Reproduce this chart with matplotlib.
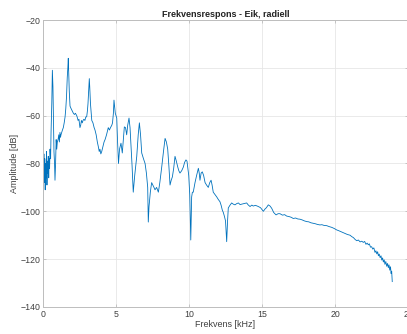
import numpy as np
import matplotlib
matplotlib.use("Agg")
import matplotlib.pyplot as plt

# frequency response values (kHz, dB)
freq_khz = [
    0.00, 0.03, 0.06, 0.09, 0.12, 0.15, 0.18, 0.21, 0.24, 0.27, 0.30, 0.33,
    0.36, 0.39, 0.42, 0.45, 0.48, 0.52, 0.55, 0.60, 0.64, 0.66, 0.68, 0.72,
    0.75, 0.79, 0.82, 0.86, 0.90, 0.94, 0.98, 1.03, 1.08, 1.12, 1.16, 1.20,
    1.23, 1.28, 1.33, 1.39, 1.45, 1.51, 1.56, 1.61, 1.66, 1.70, 1.73, 1.76,
    1.80, 1.85, 1.92, 2.00, 2.08, 2.15, 2.22, 2.31, 2.36, 2.40, 2.46, 2.53,
    2.58, 2.63, 2.69, 2.74, 2.80, 2.87, 2.93, 2.99, 3.04, 3.08, 3.13, 3.17,
    3.20, 3.25, 3.34, 3.42, 3.50, 3.56, 3.64, 3.72, 3.79, 3.85, 3.90, 3.96,
    4.02, 4.10, 4.18, 4.25, 4.35, 4.47, 4.55, 4.62, 4.71, 4.76, 4.82, 4.86,
    4.90, 4.95, 5.05, 5.10, 5.17, 5.24, 5.34, 5.43, 5.50, 5.57, 5.65, 5.73,
    5.80, 5.89, 5.96, 6.03, 6.10, 6.18, 6.28, 6.42, 6.52, 6.60, 6.68, 6.76,
    6.88, 6.99, 7.08, 7.17, 7.21, 7.26, 7.35, 7.44, 7.52, 7.60, 7.67, 7.78,
    7.90, 8.00, 8.13, 8.25, 8.36, 8.45, 8.54, 8.62, 8.70, 8.78, 8.86, 8.95,
    9.04, 9.13, 9.23, 9.30, 9.38, 9.50, 9.61, 9.70, 9.79, 9.86, 9.91, 9.98,
    10.05, 10.12, 10.18, 10.23, 10.29, 10.35, 10.41, 10.52, 10.64, 10.70, 10.75, 10.83,
    10.91, 11.00, 11.10, 11.20, 11.32, 11.42, 11.51, 11.58, 11.66, 11.78, 11.90, 12.00,
    12.12, 12.20, 12.28, 12.35, 12.42, 12.50, 12.58, 12.64, 12.69, 12.80, 12.92, 13.03,
    13.15, 13.26, 13.38, 13.50, 13.61, 13.75, 13.95, 14.05, 14.18, 14.30, 14.40, 14.55,
    14.75, 14.90, 15.09, 15.21, 15.30, 15.43, 15.55, 15.66, 15.80, 15.96, 16.10, 16.23,
    16.40, 16.55, 16.69, 16.85, 17.00, 17.14, 17.30, 17.45, 17.60, 17.75, 17.90, 18.06,
    18.20, 18.35, 18.51, 18.65, 18.80, 18.97, 19.10, 19.25, 19.43, 19.60, 19.77, 19.95,
    20.12, 20.25, 20.40, 20.57, 20.70, 20.85, 21.03, 21.15, 21.26, 21.38, 21.49, 21.60,
    21.72, 21.83, 21.94, 22.03, 22.12, 22.20, 22.28, 22.35, 22.43, 22.51, 22.58, 22.66,
    22.74, 22.80, 22.86, 22.92, 22.97, 23.03, 23.09, 23.15, 23.20, 23.26, 23.31, 23.37,
    23.42, 23.48, 23.54, 23.60, 23.65, 23.70, 23.75, 23.80, 23.84, 23.88, 23.92,
]
amp_db = [
    -97.0, -84.0, -76.0, -88.0, -78.0, -91.0, -80.0, -86.0, -75.0, -89.0, -79.0, -84.0,
    -77.0, -86.0, -78.0, -82.0, -74.0, -78.0, -67.0, -55.0, -41.0, -44.0, -48.0, -62.0,
    -75.0, -80.0, -87.0, -80.0, -70.0, -74.0, -71.0, -70.0, -68.0, -71.0, -67.0, -69.0,
    -68.0, -67.0, -66.0, -65.0, -63.0, -60.5, -57.0, -52.0, -44.0, -40.0, -36.0, -42.0,
    -50.0, -56.0, -57.0, -58.0, -59.0, -59.5, -59.0, -60.0, -61.0, -62.0, -61.5, -65.0,
    -64.0, -62.0, -63.0, -62.0, -61.5, -62.0, -60.5, -60.5, -58.0, -55.0, -49.0, -44.5,
    -48.0, -55.0, -62.0, -63.0, -65.0, -66.0, -68.0, -71.0, -73.0, -75.0, -74.0, -76.0,
    -75.0, -73.0, -71.0, -70.0, -68.0, -65.0, -66.0, -65.0, -64.0, -63.0, -59.0, -53.5,
    -56.0, -59.0, -61.0, -70.0, -80.0, -74.0, -71.5, -75.6, -70.0, -64.7, -65.0, -68.0,
    -64.0, -61.0, -65.0, -73.0, -81.0, -92.0, -85.0, -77.0, -68.0, -63.0, -68.0, -75.6,
    -78.0, -80.0, -84.0, -90.0, -104.5, -98.0, -92.0, -88.0, -89.0, -90.0, -91.0, -90.0,
    -92.0, -88.0, -81.5, -75.0, -69.5, -71.0, -74.0, -81.0, -89.0, -87.0, -85.6, -82.0,
    -77.0, -79.0, -81.5, -83.0, -84.0, -83.0, -81.5, -79.5, -78.5, -79.0, -81.5, -85.0,
    -93.0, -112.0, -94.0, -92.0, -92.0, -90.0, -88.0, -85.0, -82.0, -84.0, -87.0, -84.0,
    -83.5, -85.0, -88.0, -89.0, -90.0, -88.0, -87.0, -89.0, -92.0, -93.0, -94.0, -95.0,
    -96.0, -97.5, -99.5, -100.5, -102.0, -104.0, -112.7, -104.0, -98.6, -97.5, -96.5, -97.0,
    -97.3, -96.8, -96.5, -97.2, -97.0, -96.8, -96.5, -97.3, -98.0, -97.4, -97.8, -97.5,
    -98.0, -98.5, -100.0, -99.0, -98.5, -97.3, -97.8, -98.7, -100.5, -101.5, -101.0, -101.0,
    -101.6, -101.4, -102.0, -102.2, -102.5, -103.0, -102.8, -103.2, -103.3, -103.6, -104.0, -104.3,
    -104.4, -104.8, -105.0, -105.2, -105.5, -105.7, -105.6, -105.9, -106.0, -106.4, -106.7, -107.2,
    -107.8, -108.1, -108.5, -109.0, -109.3, -109.7, -110.0, -110.6, -111.0, -111.8, -112.3, -112.0,
    -112.8, -112.5, -113.0, -112.6, -113.8, -113.3, -114.0, -113.6, -115.0, -114.8, -115.8, -115.3,
    -117.2, -116.5, -117.8, -116.9, -118.6, -117.9, -119.4, -118.6, -120.4, -119.5, -121.2, -120.3,
    -122.2, -121.0, -123.0, -121.8, -123.6, -122.4, -124.6, -123.2, -126.0, -125.0, -129.4,
]

x_ticks = [0, 5, 10, 15, 20, 25]
y_ticks = [-140, -120, -100, -80, -60, -40, -20]

plt.rcParams['font.family'] = ['Liberation Sans', 'DejaVu Sans']

fig = plt.figure(figsize=(4.07, 3.34), dpi=100)
ax = fig.add_axes([0.1057, 0.081, 0.8968, 0.859])

ax.plot(freq_khz, amp_db, color='#0072BD', lw=0.6)

ax.set_xlim(0, 25)
ax.set_ylim(-140, -20)
ax.set_xticks(x_ticks)
ax.set_yticks(y_ticks)
ax.grid(True, color='#e6e6e6', lw=0.6)
ax.set_axisbelow(True)
ax.tick_params(direction='in', length=2.5, width=0.6, colors='#bdbdbd',
               labelcolor='#404040', labelsize=6.3, top=True, right=True, pad=2)
for s in ax.spines.values():
    s.set_color('#bdbdbd')
    s.set_linewidth(0.7)

ax.set_title('Frekvensrespons - Eik, radiell', fontsize=6.5, fontweight='bold',
             color='#222222', pad=2)
ax.set_xlabel('Frekvens [kHz]', fontsize=6.5, color='#404040', labelpad=1)
ax.set_ylabel('Amplitude [dB]', fontsize=6.5, color='#404040', labelpad=1)

fig.savefig('out.png', dpi=100)
